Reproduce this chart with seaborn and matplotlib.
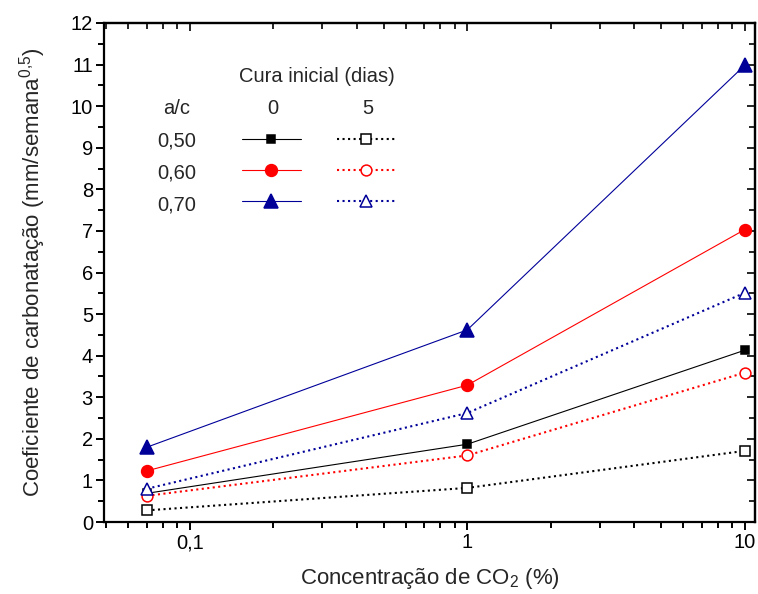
import matplotlib
matplotlib.use("Agg")
import matplotlib.pyplot as plt
from matplotlib.lines import Line2D
from matplotlib.ticker import FixedLocator, FuncFormatter, MultipleLocator, LogLocator, NullFormatter
import seaborn as sns
import pandas as pd

# CO2 concentration (%)
co2 = [0.07, 1, 10]

# carbonation coefficient (mm/semana^0,5), cure 0 days
k_050_c0 = [0.69, 1.87, 4.13]
k_060_c0 = [1.23, 3.29, 7.03]
k_070_c0 = [1.80, 4.62, 10.98]
# cure 5 days
k_050_c5 = [0.28, 0.82, 1.71]
k_060_c5 = [0.63, 1.60, 3.59]
k_070_c5 = [0.80, 2.62, 5.51]

row_labels = ["0,50", "0,60", "0,70"]
cure_labels = ["0", "5"]

navy = "#000099"
red = "#ff0000"
fs = 14.5

sns.set_style("ticks")
plt.rcParams["font.family"] = ["Liberation Sans", "DejaVu Sans"]
plt.rcParams["mathtext.fontset"] = "custom"
plt.rcParams["mathtext.rm"] = "Liberation Sans"
plt.rcParams["mathtext.it"] = "Liberation Sans"

fig = plt.figure(figsize=(7.58, 5.94), dpi=100)
ax = fig.add_axes([104 / 758, 72 / 594, 651 / 758, 499 / 594])

series = [
    (k_050_c0, "black", "-", "s", "black", 6.2, 0.8),
    (k_060_c0, red, "-", "o", red, 8.5, 0.8),
    (k_070_c0, navy, "-", "^", navy, 9.5, 0.8),
    (k_050_c5, "black", ":", "s", "white", 7.3, 1.5),
    (k_060_c5, red, ":", "o", "white", 7.8, 1.5),
    (k_070_c5, navy, ":", "^", "white", 8.5, 1.5),
]

handles = []
for vals, col, ls, mk, mfc, ms, lw in series:
    df = pd.DataFrame({"co2": co2, "k": vals})
    style = dict(color=col, linestyle=ls, linewidth=lw, marker=mk,
                 markerfacecolor=mfc, markeredgecolor=col, markersize=ms,
                 markeredgewidth=1.1)
    sns.lineplot(data=df, x="co2", y="k", ax=ax, **style)
    handles.append(Line2D([], [], **style))

ax.set_xscale("log")
ax.set_xlim(0.049, 10.9)
ax.set_ylim(0, 12)

ax.xaxis.set_major_locator(FixedLocator([0.1, 1, 10]))
ax.xaxis.set_major_formatter(FuncFormatter(lambda v, p: {0.1: "0,1", 1: "1", 10: "10"}.get(round(v, 3), "")))
ax.xaxis.set_minor_locator(LogLocator(base=10, subs=range(2, 10)))
ax.xaxis.set_minor_formatter(NullFormatter())
ax.yaxis.set_major_locator(MultipleLocator(1))
ax.yaxis.set_minor_locator(MultipleLocator(0.5))

for s in ax.spines.values():
    s.set_linewidth(1.6)
    s.set_color("black")
ax.tick_params(which="both", direction="out", width=1.4, labelsize=fs, colors="black", pad=2)
ax.tick_params(which="major", length=6)
ax.tick_params(which="minor", length=4)

# mirrored inward ticks on top and right
axt = ax.secondary_xaxis("top")
axt.xaxis.set_major_locator(FixedLocator([0.1, 1, 10]))
axt.xaxis.set_minor_locator(LogLocator(base=10, subs=range(2, 10)))
axt.tick_params(which="both", direction="in", width=1.4, labeltop=False)
axt.tick_params(which="major", length=6)
axt.tick_params(which="minor", length=4)
axr = ax.secondary_yaxis("right")
axr.yaxis.set_major_locator(MultipleLocator(1))
axr.yaxis.set_minor_locator(MultipleLocator(0.5))
axr.tick_params(which="both", direction="in", width=1.4, labelright=False)
axr.tick_params(which="major", length=6)
axr.tick_params(which="minor", length=4)
for a in (axt, axr):
    for s in a.spines.values():
        s.set_linewidth(1.6)

ax.set_xlabel("Concentração de CO$_2$ (%)", fontsize=16, labelpad=10)
ax.set_ylabel("Coeficiente de carbonatação (mm/semana$^{0{,}5}$)", fontsize=16, labelpad=16)

# table-like legend
leg = ax.legend(handles=handles, labels=[""] * 6, ncol=2, frameon=False,
                loc="center left", bbox_to_anchor=(0.2115, 0.702),
                borderpad=0, borderaxespad=0, handletextpad=0, handlelength=3.27,
                columnspacing=2.0, labelspacing=0.76, fontsize=13)
ax.text(0.3267, 0.882, "Cura inicial (dias)", transform=ax.transAxes, ha="center", va="baseline", fontsize=fs)
ax.text(0.1115, 0.8176, "a/c", transform=ax.transAxes, ha="center", va="baseline", fontsize=fs)
ax.text(0.260, 0.8176, cure_labels[0], transform=ax.transAxes, ha="center", va="baseline", fontsize=fs)
ax.text(0.406, 0.8176, cure_labels[1], transform=ax.transAxes, ha="center", va="baseline", fontsize=fs)
for lab, yy in zip(row_labels, [0.752, 0.689, 0.624]):
    ax.text(0.112, yy, lab, transform=ax.transAxes, ha="center", va="baseline", fontsize=fs)

fig.savefig("out.png", dpi=100)
